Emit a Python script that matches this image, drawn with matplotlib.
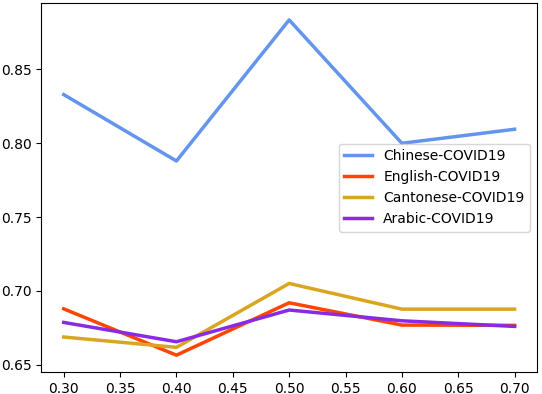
import matplotlib
matplotlib.use("Agg")
import matplotlib.pyplot as plt

x = [0.3, 0.4, 0.5, 0.6, 0.7]
chinese = [0.833, 0.788, 0.8836, 0.800, 0.8095]
english = [0.6878, 0.6564, 0.6919, 0.6768, 0.6766]
cantonese = [0.6687, 0.6617, 0.705, 0.6876, 0.6876]
arabic = [0.6786, 0.6655, 0.6870, 0.6797, 0.6759]

fig, ax = plt.subplots(figsize=(5.42, 3.94), dpi=100)
ax.plot(x, chinese, color="cornflowerblue", lw=2.5, label="Chinese-COVID19")
ax.plot(x, english, color="orangered", lw=2.5, label="English-COVID19")
ax.plot(x, cantonese, color="goldenrod", lw=2.5, label="Cantonese-COVID19")
ax.plot(x, arabic, color="blueviolet", lw=2.5, label="Arabic-COVID19")
ax.legend(loc="center right")
plt.subplots_adjust(left=0.076, right=0.991, bottom=0.056, top=0.992)
plt.savefig("out.png")
